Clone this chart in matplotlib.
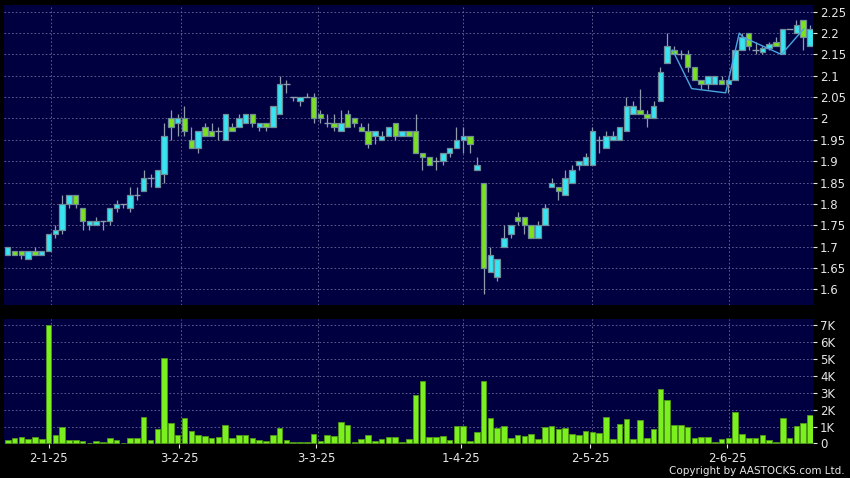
import matplotlib
matplotlib.use("Agg")
import matplotlib.pyplot as plt
from matplotlib.ticker import FuncFormatter

# daily OHLC, one entry per trading day
opens = [1.68, 1.69, 1.69, 1.67, 1.69, 1.68, 1.69, 1.73, 1.74, 1.80,
         1.82, 1.79, 1.75, 1.75, 1.76, 1.76, 1.79, 1.80, 1.79, 1.82,
         1.83, 1.86, 1.84, 1.87, 2.00, 1.99, 2.00, 1.95, 1.93, 1.98,
         1.97, 1.97, 1.95, 1.98, 1.98, 1.99, 2.01, 1.98, 1.99, 1.98,
         2.01, 2.08, 2.05, 2.04, 2.05, 2.05, 2.01, 1.99, 1.99, 1.97,
         2.01, 2.00, 1.98, 1.97, 1.96, 1.95, 1.96, 1.99, 1.96, 1.97,
         1.97, 1.92, 1.91, 1.90, 1.90, 1.92, 1.93, 1.95, 1.96, 1.88,
         1.85, 1.64, 1.63, 1.70, 1.73, 1.77, 1.77, 1.75, 1.72, 1.75,
         1.84, 1.84, 1.82, 1.85, 1.89, 1.89, 1.89, 1.95, 1.93, 1.95,
         1.95, 1.97, 2.01, 2.02, 2.01, 2.00, 2.04, 2.13, 2.16, 2.15,
         2.15, 2.12, 2.09, 2.08, 2.08, 2.09, 2.08, 2.09, 2.16, 2.20,
         2.16, 2.155, 2.165, 2.18, 2.15, 2.21, 2.20, 2.23, 2.17]
highs = [1.70, 1.69, 1.69, 1.69, 1.70, 1.69, 1.73, 1.75, 1.82, 1.82,
         1.82, 1.79, 1.76, 1.77, 1.76, 1.79, 1.81, 1.80, 1.84, 1.84,
         1.88, 1.87, 1.88, 1.99, 2.02, 2.01, 2.03, 1.98, 1.97, 1.99,
         1.99, 1.98, 2.01, 1.99, 2.01, 2.01, 2.01, 1.99, 1.99, 2.03,
         2.10, 2.09, 2.05, 2.05, 2.06, 2.06, 2.02, 2.01, 2.01, 2.02,
         2.02, 2.00, 1.99, 1.99, 1.97, 1.97, 1.98, 1.99, 1.97, 1.97,
         2.01, 1.92, 1.91, 1.91, 1.92, 1.93, 1.98, 1.98, 1.96, 1.91,
         1.85, 1.70, 1.67, 1.75, 1.75, 1.78, 1.77, 1.75, 1.76, 1.80,
         1.86, 1.84, 1.88, 1.89, 1.90, 1.92, 1.98, 1.96, 1.97, 1.97,
         1.98, 2.05, 2.04, 2.07, 2.02, 2.04, 2.12, 2.20, 2.17, 2.16,
         2.16, 2.12, 2.09, 2.10, 2.10, 2.10, 2.09, 2.16, 2.20, 2.20,
         2.18, 2.17, 2.18, 2.19, 2.21, 2.21, 2.23, 2.23, 2.22]
lows = [1.68, 1.68, 1.67, 1.67, 1.68, 1.68, 1.69, 1.72, 1.73, 1.79,
        1.79, 1.74, 1.74, 1.75, 1.74, 1.75, 1.78, 1.79, 1.78, 1.81,
        1.83, 1.84, 1.84, 1.85, 1.95, 1.96, 1.96, 1.93, 1.92, 1.96,
        1.96, 1.95, 1.95, 1.97, 1.98, 1.99, 1.98, 1.97, 1.97, 1.98,
        2.01, 2.06, 2.04, 2.03, 2.05, 1.99, 1.99, 1.98, 1.97, 1.97,
        1.98, 1.98, 1.97, 1.93, 1.94, 1.95, 1.96, 1.95, 1.96, 1.96,
        1.92, 1.88, 1.89, 1.88, 1.89, 1.91, 1.93, 1.92, 1.92, 1.88,
        1.59, 1.64, 1.62, 1.70, 1.72, 1.75, 1.73, 1.72, 1.72, 1.75,
        1.84, 1.81, 1.82, 1.85, 1.88, 1.89, 1.89, 1.92, 1.93, 1.95,
        1.95, 1.97, 2.01, 2.01, 1.98, 2.00, 2.04, 2.13, 2.15, 2.14,
        2.11, 2.09, 2.07, 2.07, 2.08, 2.08, 2.06, 2.09, 2.16, 2.16,
        2.15, 2.15, 2.16, 2.17, 2.15, 2.21, 2.20, 2.16, 2.17]
closes = [1.70, 1.68, 1.68, 1.69, 1.68, 1.69, 1.73, 1.74, 1.80, 1.82,
          1.80, 1.76, 1.76, 1.76, 1.76, 1.79, 1.80, 1.80, 1.82, 1.82,
          1.86, 1.86, 1.88, 1.96, 1.98, 2.00, 1.97, 1.93, 1.97, 1.96,
          1.96, 1.97, 2.01, 1.97, 2.00, 2.01, 1.99, 1.99, 1.98, 2.03,
          2.08, 2.08, 2.05, 2.05, 2.05, 2.00, 2.00, 1.99, 1.98, 1.99,
          1.98, 1.99, 1.97, 1.94, 1.97, 1.96, 1.98, 1.96, 1.97, 1.96,
          1.92, 1.91, 1.89, 1.90, 1.92, 1.93, 1.95, 1.96, 1.94, 1.89,
          1.65, 1.68, 1.67, 1.72, 1.75, 1.76, 1.75, 1.72, 1.75, 1.79,
          1.85, 1.83, 1.86, 1.88, 1.90, 1.91, 1.97, 1.95, 1.96, 1.96,
          1.98, 2.03, 2.03, 2.01, 2.00, 2.03, 2.11, 2.17, 2.15, 2.15,
          2.12, 2.09, 2.08, 2.10, 2.10, 2.08, 2.09, 2.16, 2.19, 2.17,
          2.16, 2.165, 2.175, 2.17, 2.21, 2.21, 2.22, 2.19, 2.21]
# volume in thousands
volumes = [0.2, 0.35, 0.4, 0.24, 0.4, 0.26, 7.0, 0.5, 0.99, 0.2,
           0.2, 0.12, 0.04, 0.16, 0.06, 0.3, 0.18, 0.02, 0.35, 0.34,
           1.58, 0.2, 0.85, 5.03, 1.24, 0.49, 1.48, 0.75, 0.49, 0.45,
           0.32, 0.37, 1.12, 0.3, 0.49, 0.49, 0.34, 0.22, 0.14, 0.49,
           0.93, 0.2, 0.06, 0.06, 0.1, 0.55, 0.12, 0.49, 0.45, 1.3,
           1.07, 0.1, 0.26, 0.49, 0.14, 0.26, 0.4, 0.4, 0.06, 0.26,
           2.86, 3.69, 0.4, 0.4, 0.43, 0.2, 1.05, 1.05, 0.14, 0.69,
           3.69, 1.48, 0.93, 1.05, 0.34, 0.49, 0.43, 0.59, 0.24, 0.99,
           1.05, 0.85, 0.93, 0.55, 0.49, 0.73, 0.69, 0.63, 1.54, 0.26,
           1.18, 1.44, 0.24, 1.38, 0.3, 0.87, 3.2, 2.6, 1.07, 1.12,
           0.99, 0.35, 0.4, 0.4, 0.1, 0.24, 0.35, 1.85, 0.55, 0.3,
           0.3, 0.49, 0.2, 0.1, 1.48, 0.35, 1.03, 1.24, 1.66]

date_labels = ["2-1-25", "3-2-25", "3-3-25", "1-4-25", "2-5-25", "2-6-25"]
date_pos = [6, 25.2, 45.4, 66.6, 85.7, 105.8]

# thin zigzag line drawn over the last weeks
zz_x = [97.8, 100.6, 105.6, 107.6, 108.2, 113.8, 117.1]
zz_y = [2.16, 2.07, 2.06, 2.20, 2.19, 2.15, 2.21]

price_ticks = [1.6, 1.65, 1.7, 1.75, 1.8, 1.85, 1.9, 1.95, 2.0, 2.05,
               2.1, 2.15, 2.2, 2.25]
vol_ticks = [0, 1, 2, 3, 4, 5, 6, 7]

BG = "#000040"
GRID = "#6a6a9c"
TXT = "#e6e6e6"
UP = "#36e4f2"
DOWN = "#7ce21e"
EDGE = "#6f8c96"
WICK = "#8e9cab"
VOL = "#7cf01e"

W, H = 850, 478
fig = plt.figure(figsize=(W / 100, H / 100), dpi=100, facecolor="black")
ax = fig.add_axes([4 / W, 1 - 305 / H, 809 / W, 300 / H])
ax2 = fig.add_axes([4 / W, 1 - 444 / H, 809 / W, 125 / H])

x = list(range(len(closes)))

for a in (ax, ax2):
    a.set_facecolor(BG)
    for s in a.spines.values():
        s.set_visible(False)
    a.set_xlim(-0.55, 118.45)
    a.yaxis.tick_right()
    a.tick_params(axis="y", colors=TXT, labelsize=8.5, length=3, pad=2,
                  width=0.8)
    for p in date_pos:
        a.axvline(p + 0.3, color=GRID, lw=0.6, dashes=(2, 2.5), zorder=0)

# price panel
for v in price_ticks:
    ax.axhline(v, color=GRID, lw=0.6, dashes=(2, 2.5), zorder=0)

ax.vlines(x, lows, highs, color=WICK, lw=0.9, zorder=1)
for i in x:
    o, c = opens[i], closes[i]
    if c == o:
        ax.hlines(c, i - 0.5, i + 0.5, color=WICK, lw=1.0, zorder=2)
    else:
        ax.bar(i, abs(c - o), bottom=min(o, c), width=0.8,
               color=UP if c > o else DOWN, edgecolor=EDGE, lw=0.9, zorder=2)

ax.plot(zz_x, zz_y, color="#4aa6e0", lw=1.0, zorder=3)

ax.set_ylim(1.5633, 2.2657)
ax.set_yticks(price_ticks)
ax.yaxis.set_major_formatter(FuncFormatter(lambda v, _: "%g" % round(v, 2)))
ax.set_xticks([])

# volume panel
for v in vol_ticks[1:]:
    ax2.axhline(v, color=GRID, lw=0.6, dashes=(2, 2.5), zorder=0)
ax2.bar(x, volumes, width=0.82, color=VOL, edgecolor="#4f9a16", lw=0.6,
        zorder=2)
ax2.set_ylim(-0.03, 7.36)
ax2.set_yticks(vol_ticks)
ax2.yaxis.set_major_formatter(
    FuncFormatter(lambda v, _: "0" if v == 0 else "%dK" % v))
ax2.set_xticks(date_pos)
ax2.set_xticklabels(date_labels)
ax2.tick_params(axis="x", colors=TXT, labelsize=8.5, length=3, pad=3,
                width=0.8)

fig.text(0.994, 0.004, "Copyright by AASTOCKS.com Ltd.", color=TXT,
         fontsize=7.5, ha="right", va="bottom")

fig.savefig("out.png", dpi=100, facecolor="black")
